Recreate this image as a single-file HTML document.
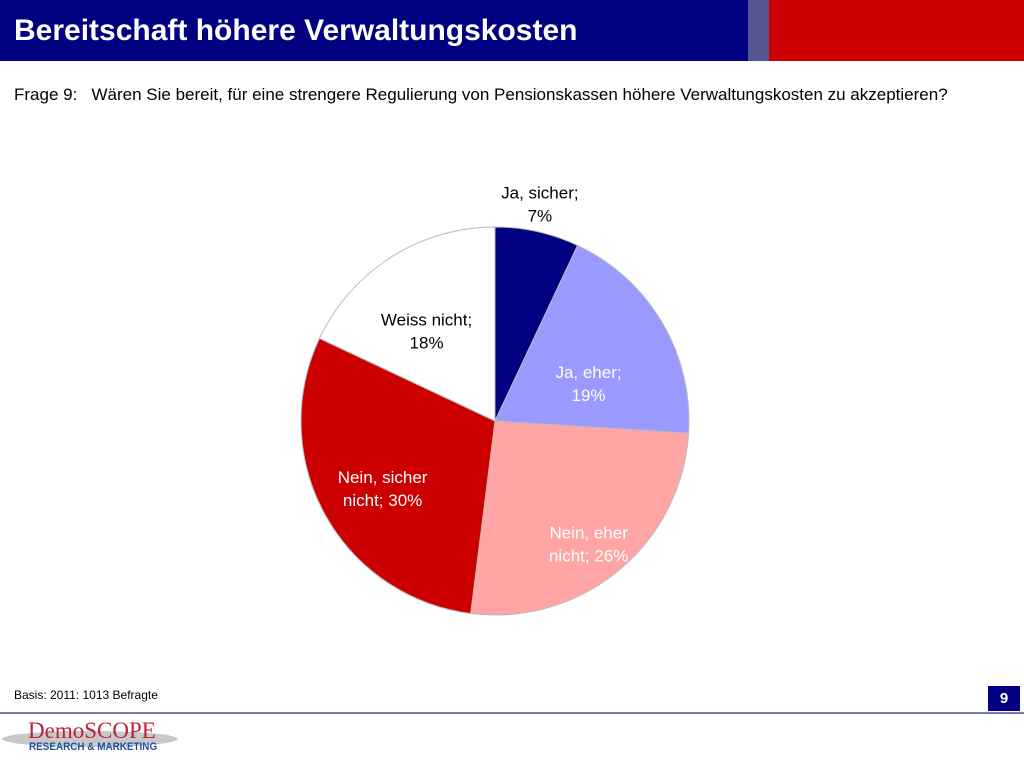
<!DOCTYPE html>
<html><head><meta charset="utf-8"><style>
body{margin:0;width:1024px;height:768px;background:#fff;font-family:"Liberation Sans",sans-serif;position:relative;overflow:hidden}
.a{position:absolute}
</style></head><body>
<div class="a" style="left:0;top:0;width:748px;height:61px;background:#000080"></div>
<div class="a" style="left:748px;top:0;width:21px;height:61px;background:#55558f"></div>
<div class="a" style="left:769px;top:0;width:255px;height:61px;background:#cc0000"></div>
<div class="a" style="left:14px;top:14px;color:#fff;font-weight:bold;font-size:30px">Bereitschaft höhere Verwaltungskosten</div>
<div class="a" style="left:14px;top:85px;font-size:17px;color:#000">Frage 9:&nbsp;&nbsp;&nbsp;Wären Sie bereit, für eine strengere Regulierung von Pensionskassen höhere Verwaltungskosten zu akzeptieren?</div>
<svg class="a" style="left:0;top:0" width="1024" height="768">
<g id="pie"></g><g id="labels"></g>
</svg>
<div class="a" style="left:14px;top:688px;font-size:12px">Basis: 2011: 1013 Befragte</div>
<div class="a" style="left:988px;top:686px;width:32px;height:25px;background:#000080;color:#fff;font-weight:bold;font-size:15px;text-align:center;line-height:25px">9</div>
<div class="a" style="left:0;top:712px;width:1024px;height:2px;background:#7a7ab8"></div>
<div class="a" style="left:2px;top:731px;width:176px;height:16px;border-radius:50%;background:#c8c8c8"></div>
<div class="a" style="left:28px;top:718px;font-family:'Liberation Serif',serif;font-size:23px;color:#c0203a">DemoSCOPE</div>
<div class="a" style="left:29px;top:741px;font-size:11px;font-weight:bold;color:#1f4f9f;transform:scaleX(0.9);transform-origin:left">RESEARCH &amp; MARKETING</div>
<script>
const categories=["Ja, sicher","Ja, eher","Nein, eher nicht","Nein, sicher nicht","Weiss nicht"];
const values=[7,19,26,30,18];
const labelLines=[["Ja, sicher;","7%"],["Ja, eher;","19%"],["Nein, eher","nicht; 26%"],["Nein, sicher","nicht; 30%"],["Weiss nicht;","18%"]];
const colors=["#000080","#9999ff","#ffa5a5","#cc0000","#ffffff"];
const textColors=["#000","#fff","#fff","#fff","#000"];
const nudgeX=[-4,-10,17,-7,-4];
const nudgeY=[36,22,29,8,10];
const cx=495,cy=421,r=194;
const ns="http://www.w3.org/2000/svg";
const total=values.reduce((a,b)=>a+b,0);
const pie=document.getElementById('pie'),lab=document.getElementById('labels');
let a0=0;
values.forEach((v,i)=>{
 const a1=a0+v/total*2*Math.PI;
 const p=(a)=>[cx+r*Math.sin(a),cy-r*Math.cos(a)];
 const [x0,y0]=p(a0),[x1,y1]=p(a1);
 const path=document.createElementNS(ns,'path');
 path.setAttribute('d',`M${cx},${cy}L${x0},${y0}A${r},${r} 0 ${a1-a0>Math.PI?1:0} 1 ${x1},${y1}Z`);
 path.setAttribute('fill',colors[i]);path.setAttribute('stroke','#bbb');path.setAttribute('stroke-width','1');
 
 
 pie.appendChild(path);
 const m=(a0+a1)/2;
 const lr = v<10 ? r+30 : r*0.62;
 const lx=cx+lr*Math.sin(m)+nudgeX[i], ly=cy-lr*Math.cos(m)+nudgeY[i];
 const t=document.createElementNS(ns,'text');
 t.setAttribute('text-anchor','middle');t.setAttribute('font-size','17');t.setAttribute('fill',textColors[i]);
 t.setAttribute('font-family','Liberation Sans, sans-serif');
 
 
 const off = v<10 ? -36 : 0;
 labelLines[i].forEach((s,k)=>{const ts=document.createElementNS(ns,'tspan');ts.setAttribute('x',lx);ts.setAttribute('y',ly+off+k*23-4);ts.textContent=s;t.appendChild(ts);});
 lab.appendChild(t);
 a0=a1;
});
</script>
</body></html>
